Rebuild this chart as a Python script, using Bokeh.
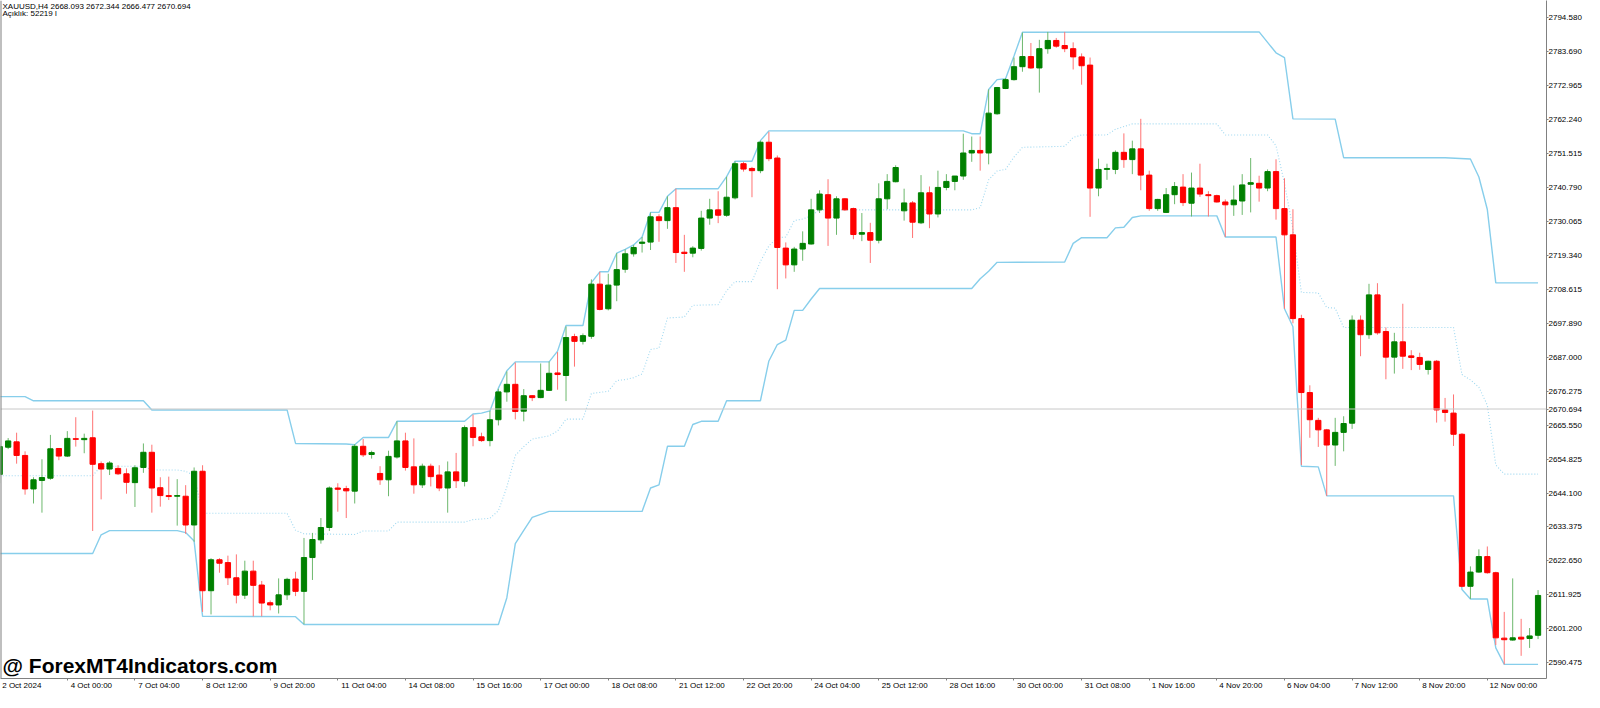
from bokeh.plotting import figure
from bokeh.models import Range1d, FixedTicker, Span, Label, NumeralTickFormatter, ColumnDataSource
from bokeh.embed import file_html
from bokeh.resources import INLINE

# ---------------- data ----------------
opens = [2650.0, 2658.6, 2660.3, 2656.0, 2645.4, 2648.1, 2648.8, 2658.2, 2655.8, 2661.3,
         2661.0, 2661.6, 2653.4, 2651.7, 2651.9, 2650.2, 2647.4, 2652.2, 2657.0, 2645.8,
         2643.3, 2643.1, 2643.1, 2634.0, 2651.0, 2613.2, 2623.0, 2622.1, 2617.3, 2611.8,
         2619.4, 2615.0, 2609.4, 2608.7, 2611.9, 2616.9, 2613.0, 2623.7, 2629.3, 2633.2,
         2645.7, 2645.5, 2644.7, 2658.9, 2656.3, 2650.3, 2648.3, 2655.5, 2660.6, 2652.4,
         2646.7, 2652.6, 2649.8, 2645.7, 2650.8, 2647.8, 2664.8, 2661.9, 2660.7, 2667.3,
         2676.1, 2678.5, 2670.0, 2674.9, 2674.3, 2676.6, 2682.1, 2681.3, 2693.6, 2692.1,
         2693.7, 2710.2, 2702.4, 2709.9, 2714.9, 2719.8, 2723.1, 2723.5, 2731.5, 2730.3,
         2734.4, 2720.3, 2720.0, 2721.5, 2731.1, 2733.7, 2732.0, 2737.5, 2748.3, 2746.8,
         2746.1, 2755.1, 2750.1, 2721.6, 2716.3, 2721.3, 2722.9, 2733.7, 2738.5, 2731.1,
         2737.2, 2734.1, 2726.0, 2726.5, 2724.1, 2737.2, 2742.6, 2733.4, 2735.9, 2729.6,
         2739.1, 2732.4, 2740.8, 2742.7, 2744.4, 2751.7, 2752.5, 2751.7, 2764.1, 2772.1,
         2774.9, 2779.0, 2782.2, 2778.6, 2784.7, 2787.3, 2785.7, 2784.7, 2782.1, 2779.5,
         2740.6, 2746.5, 2746.5, 2751.9, 2749.6, 2753.0, 2744.7, 2734.1, 2732.9, 2738.5,
         2740.9, 2735.8, 2740.6, 2738.5, 2738.2, 2736.2, 2735.3, 2736.5, 2741.8, 2742.1,
         2740.6, 2745.8, 2734.1, 2725.8, 2699.3, 2675.9, 2667.1, 2664.1, 2659.3, 2663.3,
         2666.2, 2698.8, 2694.2, 2706.8, 2695.2, 2687.1, 2691.95, 2687.5, 2687.0, 2683.2,
         2685.8, 2670.4, 2669.4, 2662.7, 2614.6, 2619.1, 2624.0, 2618.9, 2598.2, 2597.6,
         2598.5, 2598.1, 2599.1]
highs = [2659.5, 2661.5, 2663.2, 2657.3, 2649.1, 2654.8, 2662.5, 2658.3, 2663.7, 2668.1,
         2662.9, 2670.2, 2654.1, 2654.2, 2652.9, 2651.9, 2652.9, 2659.8, 2659.4, 2649.1,
         2649.3, 2648.5, 2646.6, 2652.2, 2652.9, 2623.5, 2623.5, 2624.3, 2624.7, 2622.7,
         2622.7, 2616.3, 2610.1, 2617.1, 2617.3, 2619.2, 2629.9, 2631.5, 2636.2, 2646.2,
         2647.2, 2646.4, 2659.6, 2661.2, 2657.5, 2652.6, 2657.5, 2666.8, 2663.2, 2661.4,
         2653.4, 2653.4, 2652.9, 2654.1, 2656.8, 2665.5, 2668.9, 2663.2, 2670.1, 2677.1,
         2682.6, 2685.4, 2677.0, 2675.1, 2685.1, 2685.7, 2688.7, 2696.8, 2694.5, 2694.6,
         2711.7, 2714.1, 2713.5, 2720.0, 2721.2, 2722.6, 2725.1, 2732.9, 2732.3, 2738.0,
         2740.4, 2725.8, 2722.2, 2733.4, 2737.2, 2739.6, 2744.2, 2749.1, 2748.9, 2747.3,
         2755.6, 2758.4, 2750.9, 2723.4, 2722.0, 2726.9, 2737.2, 2739.9, 2743.4, 2738.0,
         2737.4, 2734.4, 2732.7, 2729.6, 2742.1, 2745.0, 2747.8, 2740.4, 2736.5, 2744.7,
         2741.1, 2746.1, 2745.0, 2744.4, 2757.8, 2756.9, 2756.9, 2771.8, 2772.6, 2775.4,
         2781.9, 2789.8, 2786.5, 2787.5, 2790.0, 2788.1, 2790.0, 2786.7, 2783.2, 2781.9,
         2749.9, 2748.3, 2752.5, 2757.9, 2755.6, 2762.5, 2746.1, 2737.2, 2740.6, 2742.5,
         2745.0, 2745.5, 2748.3, 2739.6, 2738.5, 2737.0, 2741.4, 2745.0, 2750.1, 2744.5,
         2746.5, 2749.7, 2743.7, 2733.9, 2700.5, 2678.2, 2667.9, 2664.4, 2667.9, 2668.4,
         2700.3, 2700.3, 2710.3, 2710.5, 2696.5, 2694.8, 2704.0, 2689.3, 2688.5, 2686.0,
         2686.2, 2674.2, 2675.3, 2663.1, 2620.9, 2626.3, 2627.2, 2619.2, 2606.5, 2617.1,
         2604.3, 2601.4, 2613.4]
lows = [2647.2, 2658.0, 2653.4, 2643.6, 2640.8, 2637.9, 2648.3, 2654.5, 2655.5, 2658.8,
        2656.7, 2632.1, 2642.1, 2649.8, 2649.8, 2643.9, 2639.7, 2650.5, 2637.9, 2639.8,
        2641.9, 2633.8, 2631.2, 2628.7, 2606.5, 2605.7, 2618.9, 2615.0, 2609.2, 2610.6,
        2605.1, 2605.1, 2607.0, 2606.0, 2610.3, 2611.5, 2602.6, 2616.6, 2628.1, 2632.1,
        2638.2, 2636.2, 2640.8, 2655.5, 2655.0, 2646.7, 2643.1, 2655.0, 2651.2, 2643.9,
        2645.7, 2646.2, 2644.7, 2637.9, 2645.7, 2646.2, 2658.9, 2660.3, 2658.9, 2665.5,
        2673.0, 2667.4, 2666.8, 2673.2, 2674.1, 2676.4, 2676.8, 2673.2, 2684.1, 2691.1,
        2692.9, 2701.9, 2701.9, 2704.8, 2713.8, 2718.9, 2720.2, 2721.0, 2723.6, 2727.7,
        2716.9, 2714.1, 2718.7, 2720.8, 2729.0, 2729.5, 2731.5, 2737.0, 2745.8, 2737.7,
        2745.3, 2749.1, 2708.6, 2712.0, 2714.1, 2717.6, 2722.7, 2732.7, 2722.3, 2725.8,
        2733.5, 2724.4, 2723.8, 2716.9, 2723.1, 2733.9, 2742.4, 2730.3, 2724.8, 2729.2,
        2727.9, 2731.3, 2739.9, 2739.9, 2743.2, 2748.9, 2746.1, 2748.1, 2763.8, 2771.9,
        2774.6, 2777.4, 2778.3, 2770.8, 2783.1, 2785.0, 2783.6, 2778.1, 2773.3, 2731.5,
        2738.0, 2743.2, 2745.0, 2747.0, 2745.0, 2739.9, 2733.4, 2733.4, 2732.7, 2735.5,
        2734.9, 2731.6, 2737.8, 2731.6, 2736.0, 2725.1, 2731.8, 2732.1, 2732.9, 2736.3,
        2739.6, 2730.6, 2702.4, 2697.8, 2653.0, 2661.6, 2658.7, 2643.2, 2652.7, 2657.3,
        2664.4, 2687.4, 2692.9, 2694.2, 2680.1, 2681.9, 2683.4, 2683.0, 2683.1, 2681.6,
        2666.4, 2666.7, 2659.0, 2614.3, 2610.6, 2618.9, 2618.6, 2596.0, 2589.9, 2597.4,
        2592.6, 2595.1, 2597.9]
closes = [2658.8, 2660.6, 2656.0, 2645.4, 2648.3, 2649.0, 2658.1, 2655.8, 2661.4, 2661.1,
          2661.4, 2653.2, 2651.7, 2653.6, 2650.2, 2647.5, 2652.1, 2657.0, 2645.7, 2643.3,
          2643.0, 2643.3, 2634.0, 2651.0, 2613.2, 2623.0, 2621.9, 2617.3, 2611.8, 2619.4,
          2614.9, 2609.3, 2608.7, 2611.9, 2616.8, 2613.0, 2623.7, 2629.4, 2633.2, 2645.7,
          2645.3, 2644.8, 2658.9, 2656.2, 2656.9, 2648.3, 2655.7, 2660.6, 2652.2, 2646.7,
          2652.6, 2649.3, 2645.7, 2650.8, 2648.0, 2664.8, 2661.7, 2660.7, 2667.3, 2676.1,
          2678.5, 2669.9, 2674.9, 2674.3, 2676.6, 2682.0, 2681.6, 2693.3, 2692.1, 2693.9,
          2710.2, 2702.2, 2709.9, 2714.8, 2719.8, 2721.8, 2723.5, 2731.5, 2730.3, 2734.4,
          2720.2, 2719.9, 2721.6, 2731.1, 2733.7, 2732.0, 2737.7, 2748.3, 2746.6, 2746.1,
          2755.1, 2749.9, 2721.8, 2716.3, 2721.3, 2723.1, 2733.7, 2738.7, 2731.1, 2737.2,
          2733.7, 2725.9, 2726.5, 2724.1, 2737.2, 2742.7, 2747.1, 2735.9, 2729.8, 2739.1,
          2732.4, 2740.8, 2742.7, 2744.4, 2751.7, 2752.5, 2751.7, 2764.3, 2772.4, 2774.9,
          2779.0, 2782.2, 2778.6, 2784.7, 2787.3, 2785.5, 2784.7, 2782.1, 2779.3, 2740.6,
          2746.5, 2746.8, 2751.9, 2749.6, 2753.0, 2744.7, 2734.1, 2737.0, 2738.5, 2741.1,
          2736.0, 2740.6, 2738.7, 2738.2, 2736.2, 2735.3, 2736.8, 2741.6, 2742.3, 2740.6,
          2745.8, 2734.1, 2725.8, 2699.3, 2675.9, 2667.3, 2664.1, 2659.3, 2663.3, 2666.1,
          2698.8, 2694.2, 2706.8, 2694.8, 2687.1, 2691.95, 2687.4, 2687.0, 2684.8, 2685.8,
          2670.4, 2669.6, 2662.7, 2614.6, 2619.1, 2624.0, 2618.9, 2598.3, 2597.7, 2598.3,
          2597.9, 2598.9, 2611.7]

# channel lines: (bar index, price) points
upper_idx = [0, 3, 4, 17, 18, 34, 35, 41, 42, 43, 46, 47, 55, 56, 57, 58, 59, 60, 61, 65,
             66, 67, 69, 70, 71, 72, 73, 74, 75, 76, 77, 78, 79, 80, 85, 86, 87, 89, 90, 91,
             114, 115, 116, 117, 118, 119, 120, 121, 149, 150, 151, 152, 153, 158, 159,
             171, 174, 175, 176, 177, 182]
upper_val = [2674.6, 2674.6, 2673.3, 2673.3, 2670.4, 2670.4, 2659.8, 2659.6, 2659.4, 2661.7,
             2661.7, 2666.8, 2666.8, 2669.1, 2669.4, 2670.1, 2677.3, 2682.8, 2685.6, 2685.6,
             2689.0, 2697.1, 2697.1, 2710.7, 2714.1, 2714.1, 2720.0, 2721.2, 2722.6, 2725.1,
             2732.9, 2732.9, 2738.0, 2740.4, 2740.4, 2744.2, 2749.1, 2749.1, 2755.6, 2758.7,
             2758.7, 2757.8, 2757.8, 2771.8, 2774.9, 2775.2, 2782.4, 2789.9, 2790.0, 2786.7,
             2783.4, 2781.9, 2762.5, 2762.4, 2750.2, 2750.2, 2749.8, 2744.1, 2733.8, 2710.6,
             2710.6]
lower_idx = [0, 11, 12, 13, 21, 22, 23, 24, 35, 36, 59, 60, 61, 62, 63, 65, 76, 77, 78, 79,
             81, 82, 83, 85, 86, 90, 91, 92, 93, 94, 95, 96, 97, 115, 116, 117, 118, 126, 127,
             128, 131, 132, 133, 134, 135, 144, 145, 151, 152, 153, 154, 156, 157, 172, 173,
             174, 176, 177, 178, 182]
lower_val = [2625.0, 2625.0, 2630.9, 2632.2, 2632.2, 2631.6, 2628.9, 2605.1, 2605.0, 2602.5,
             2602.5, 2611.0, 2628.1, 2632.3, 2636.4, 2638.3, 2638.3, 2645.7, 2646.7, 2658.9,
             2658.9, 2665.8, 2666.8, 2666.8, 2673.3, 2673.3, 2685.9, 2691.1, 2692.5, 2701.9,
             2701.9, 2705.5, 2708.8, 2708.8, 2711.9, 2714.3, 2717.1, 2717.2, 2723.1, 2724.9,
             2724.9, 2728.0, 2728.2, 2731.3, 2731.8, 2731.8, 2725.1, 2725.1, 2702.4, 2696.7,
             2652.6, 2652.4, 2643.2, 2643.2, 2613.6, 2610.6, 2610.6, 2595.1, 2589.9, 2589.9]
middle_idx = [0, 11, 12, 17, 18, 21, 22, 23, 24, 34, 35, 36, 42, 43, 46, 47, 55, 56, 58, 59,
              60, 61, 62, 63, 65, 66, 67, 69, 70, 72, 73, 74, 75, 76, 77, 78, 79, 81, 82, 85,
              86, 87, 89, 90, 91, 92, 93, 94, 95, 96, 97, 115, 116, 117, 118, 119, 120, 121,
              126, 127, 128, 131, 132, 134, 144, 145, 150, 151, 152, 153, 154, 156, 157, 158,
              159, 172, 173, 174, 175, 176, 177, 178, 182]
middle_val = [2649.6, 2649.6, 2652.6, 2652.6, 2651.4, 2651.4, 2651.0, 2649.6, 2637.7, 2637.7,
              2632.3, 2631.2, 2631.0, 2632.1, 2632.1, 2634.9, 2634.9, 2635.7, 2636.1, 2638.5,
              2646.0, 2656.0, 2658.8, 2661.2, 2662.2, 2663.7, 2667.5, 2667.5, 2675.6, 2676.3,
              2679.7, 2680.0, 2680.6, 2681.8, 2689.5, 2690.0, 2699.5, 2699.8, 2703.5, 2703.7,
              2708.1, 2711.0, 2711.0, 2717.4, 2722.3, 2724.9, 2725.1, 2730.3, 2730.8, 2731.8,
              2733.7, 2733.7, 2734.4, 2743.2, 2746.0, 2746.5, 2750.4, 2753.5, 2753.8, 2756.6,
              2757.4, 2757.4, 2759.2, 2760.9, 2760.9, 2757.4, 2757.4, 2754.0, 2742.1, 2727.7,
              2707.6, 2707.4, 2702.8, 2702.6, 2696.5, 2696.5, 2681.6, 2679.9, 2677.6, 2671.9,
              2653.0, 2650.1, 2650.1]

price_ticks = [2794.580, 2783.690, 2772.965, 2762.240, 2751.515, 2740.790, 2730.065,
               2719.340, 2708.615, 2697.890, 2687.000, 2676.275, 2665.550, 2654.825,
               2644.100, 2633.375, 2622.650, 2611.925, 2601.200, 2590.475]
date_tick_bars = [0, 8, 16, 24, 32, 40, 48, 56, 64, 72, 80, 88, 96, 104, 112, 120, 128,
                  136, 144, 152, 160, 168, 176]
date_labels = ["2 Oct 2024", "4 Oct 00:00", "7 Oct 04:00", "8 Oct 12:00", "9 Oct 20:00",
               "11 Oct 04:00", "14 Oct 08:00", "15 Oct 16:00", "17 Oct 00:00", "18 Oct 08:00",
               "21 Oct 12:00", "22 Oct 20:00", "24 Oct 04:00", "25 Oct 12:00", "28 Oct 16:00",
               "30 Oct 00:00", "31 Oct 08:00", "1 Nov 16:00", "4 Nov 20:00", "6 Nov 04:00",
               "7 Nov 12:00", "8 Nov 20:00", "12 Nov 00:00"]
last_price = 2670.694
header_line1 = "XAUUSD,H4  2668.093 2672.344 2666.477 2670.694"
header_line2 = "Açıklık: 52219 l"
watermark = "@ ForexMT4Indicators.com"

# ---------------- figure ----------------
X0, X1 = 0.094, 183.0
Y0, Y1 = 2585.43, 2799.94
W, H = 1584, 692
FONT = "Liberation Sans"

p = figure(width=W, height=H, output_backend="svg", toolbar_location=None,
           x_range=Range1d(X0, X1), y_range=Range1d(Y0, Y1),
           x_axis_location="below", y_axis_location="right",
           min_border_left=0, min_border_top=0, min_border_right=0, min_border_bottom=0)
p.grid.visible = False
p.outline_line_color = None
p.background_fill_color = "white"
p.border_fill_color = "white"

idx = list(range(len(opens)))
up = [c >= o for o, c in zip(opens, closes)]
src = ColumnDataSource(dict(
    x=idx, high=highs, low=lows,
    top=[max(o, c) for o, c in zip(opens, closes)],
    bottom=[min(o, c) for o, c in zip(opens, closes)],
    body=["#008000" if u else "#ff0000" for u in up],
    wick=["#6db86d" if u else "#ff7373" for u in up],
))

# channel lines
LINE = "#87ceeb"
p.line(upper_idx, upper_val, line_color=LINE, line_width=1.4)
p.line(lower_idx, lower_val, line_color=LINE, line_width=1.4)
p.line(middle_idx, middle_val, line_color="#9fd8f0", line_width=1.1, line_dash="1 2")

# last price line
p.add_layout(Span(location=last_price, dimension="width", line_color="#c8c8c8", line_width=1))
# left border of chart
p.add_layout(Span(location=X0, dimension="height", line_color="#808080", line_width=2))

# candles
p.segment(x0="x", y0="low", x1="x", y1="high", line_color="wick", line_width=1, source=src)
p.vbar(x="x", width=0.62, top="top", bottom="bottom", fill_color="body",
       line_color="body", line_width=1, source=src)

# ---------------- axes ----------------
yax = p.yaxis[0]
yax.ticker = FixedTicker(ticks=price_ticks + [last_price], minor_ticks=[])
yax.formatter = NumeralTickFormatter(format="0.000")
yax.axis_label = None
yax.axis_label_standoff = 0
yax.axis_line_color = "#808080"
yax.major_tick_line_color = "#808080"
yax.major_tick_out = 2
yax.major_tick_in = 0
yax.minor_tick_out = 0
yax.minor_tick_in = 0
yax.major_label_standoff = 0
yax.major_label_text_font = FONT
yax.major_label_text_font_size = "8px"
yax.major_label_text_line_height = 1.0
yax.major_label_text_color = "#000000"

frame_w = W - 44
px_per_bar = frame_w / (X1 - X0)
centers = []
overrides = {}
for b, lab in zip(date_tick_bars, date_labels):
    wpx = len(lab) * 3.9
    c = round(b + (2.5 + wpx / 2) / px_per_bar, 3)
    centers.append(c)
    overrides[c] = lab

xax = p.xaxis[0]
xax.ticker = FixedTicker(ticks=centers, minor_ticks=date_tick_bars)
xax.major_label_overrides = overrides
xax.axis_label = None
xax.axis_label_standoff = 0
xax.axis_line_color = "#808080"
xax.major_tick_out = 0
xax.major_tick_in = 0
xax.minor_tick_out = 2
xax.minor_tick_in = 0
xax.minor_tick_line_color = "#808080"
xax.major_label_standoff = 0
xax.major_label_text_font = FONT
xax.major_label_text_font_size = "8px"
xax.major_label_text_line_height = 1.0
xax.major_label_text_color = "#000000"

# ---------------- texts ----------------
p.add_layout(Label(x=X0, y=Y1, x_offset=2, y_offset=-1, text=header_line1,
                   text_font=FONT, text_font_size="8px", text_color="#000000",
                   text_baseline="top", text_align="left"))
p.add_layout(Label(x=X0, y=Y1, x_offset=2, y_offset=-8, text=header_line2,
                   text_font=FONT, text_font_size="8px", text_color="#000000",
                   text_baseline="top", text_align="left"))
p.add_layout(Label(x=X0, y=Y0, x_offset=2, y_offset=2, text=watermark,
                   text_font=FONT, text_font_style="bold", text_font_size="21px",
                   text_color="#000000", text_baseline="bottom", text_align="left"))

open("out.html", "w").write(file_html(p, INLINE))
